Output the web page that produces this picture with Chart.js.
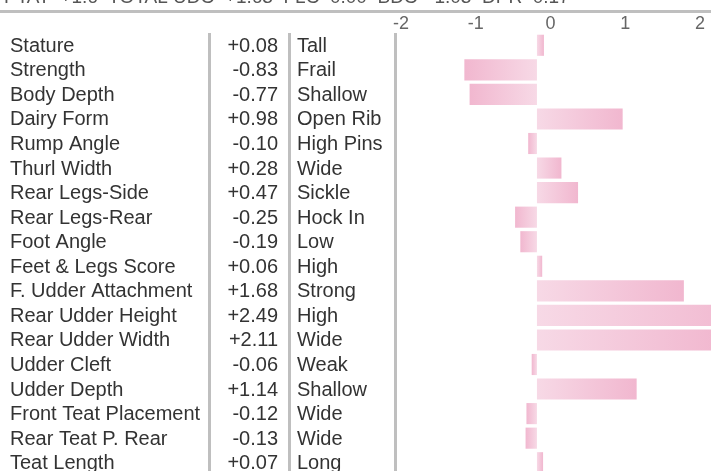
<html lang="en">
  <head>
    <meta name="viewport" content="width=device-width, initial-scale=1.0" />
    <title>Linear Traits</title>
    <script src="https://cdn.jsdelivr.net/npm/chart.js@4.4.1/dist/chart.umd.min.js"></script>
    <style>
* {
  padding: 0;
  margin: 0;
  box-sizing: border-box;
}
body {
  background: #ffffff;
}
.wrapper {
  position: relative;
  width: 711px;
  height: 471px;
  overflow: hidden;
}
/* chart runs slightly past the bottom edge, last row gets cut like the original */
.container {
  position: relative;
  width: 711px;
  height: 475px;
}
    </style>
  </head>
  <body>
    <div class="wrapper">
      <div class="container">
        <canvas id="traits"></canvas>
      </div>
    </div>

    <script>
      // Trait names, PTA values and the descriptor of the direction
      const traits = [
        "Stature", "Strength", "Body Depth", "Dairy Form", "Rump Angle",
        "Thurl Width", "Rear Legs-Side", "Rear Legs-Rear", "Foot Angle",
        "Feet & Legs Score", "F. Udder Attachment", "Rear Udder Height",
        "Rear Udder Width", "Udder Cleft", "Udder Depth",
        "Front Teat Placement", "Rear Teat P. Rear", "Teat Length"
      ];
      const ptaValues = [
        0.08, -0.83, -0.77, 0.98, -0.10, 0.28, 0.47, -0.25, -0.19,
        0.06, 1.68, 2.49, 2.11, -0.06, 1.14, -0.12, -0.13, 0.07
      ];
      const descriptors = [
        "Tall", "Frail", "Shallow", "Open Rib", "High Pins", "Wide",
        "Sickle", "Hock In", "Low", "High", "Strong", "High", "Wide",
        "Weak", "Shallow", "Wide", "Wide", "Long"
      ];
      // Labels on the scale above the bars
      const scaleTicks = [-2, -1, 0, 1, 2];
      // Summary line at the very top (mostly cut off in the picture)
      const summaryText = "PTAT  +1.6  TOTAL UDC  +1.63  FLC  0.00  BDC  -1.03  DPR  0.17";

      const FONT = "'Liberation Sans', Arial, sans-serif";

      // draws the table columns, separators and header rule
      const tablePlugin = {
        id: "traitTable",
        afterDraw(chart) {
          const ctx = chart.ctx;
          const y = chart.scales.y;
          ctx.save();

          // top header text + rule
          ctx.fillStyle = "#555";
          ctx.font = "19px " + FONT;
          ctx.textAlign = "left";
          ctx.textBaseline = "alphabetic";
          ctx.fillText(summaryText, 4, 3);
          ctx.fillStyle = "#bfbfbf";
          ctx.fillRect(0, 10, chart.width, 3);

          // column separators
          [208, 288, 394].forEach((x) => ctx.fillRect(x, 33, 3, chart.height - 33));

          // rows
          ctx.fillStyle = "#333";
          ctx.font = "20px " + FONT;
          ctx.textBaseline = "middle";
          traits.forEach((name, i) => {
            const cy = y.getPixelForValue(i) + 1;
            ctx.textAlign = "left";
            ctx.fillText(name, 10, cy);
            const v = ptaValues[i];
            ctx.textAlign = "right";
            ctx.fillText((v >= 0 ? "+" : "") + v.toFixed(2), 278, cy);
            ctx.textAlign = "left";
            ctx.fillText(descriptors[i], 297, cy);
          });
          ctx.restore();
        }
      };

      const barFill = (context) => {
        const chart = context.chart;
        if (!chart.chartArea) return "#f4c6da";
        const x = chart.scales.x;
        const x0 = x.getPixelForValue(0);
        const x1 = x.getPixelForValue(context.raw);
        if (Math.abs(x1 - x0) < 1) return "#f4c6da";
        const g = chart.ctx.createLinearGradient(x0, 0, x1, 0);
        g.addColorStop(0, "#f7d9e6");
        g.addColorStop(1, "#f1b7cf");
        return g;
      };

      const traitChart = new Chart(document.getElementById("traits"), {
        type: "bar",
        plugins: [tablePlugin],
        data: {
          labels: traits,
          datasets: [
            {
              data: ptaValues,
              backgroundColor: barFill,
              borderWidth: 0,
              categoryPercentage: 1,
              barPercentage: 0.86
            }
          ]
        },
        options: {
          indexAxis: "y",
          responsive: true,
          maintainAspectRatio: false,
          devicePixelRatio: 1,
          animation: false,
          layout: {
            padding: { left: 397, top: 15.4, right: 0, bottom: 0 }
          },
          plugins: {
            legend: { display: false },
            tooltip: { enabled: false }
          },
          scales: {
            y: {
              display: false
            },
            x: {
              display: false,
              min: -1.6,
              max: 1.99
            },
            // scale labels shown above the bars
            x2: {
              type: "linear",
              position: "top",
              min: -2.053,
              max: 2.147,
              afterBuildTicks: (axis) => {
                axis.ticks = scaleTicks.map((v) => ({ value: v }));
              },
              grid: { display: false, drawTicks: false },
              border: { display: false },
              ticks: {
                color: "#666",
                padding: -2,
                maxRotation: 0,
                font: { size: 18, family: FONT }
              }
            }
          }
        }
      });
    </script>
  </body>
</html>
